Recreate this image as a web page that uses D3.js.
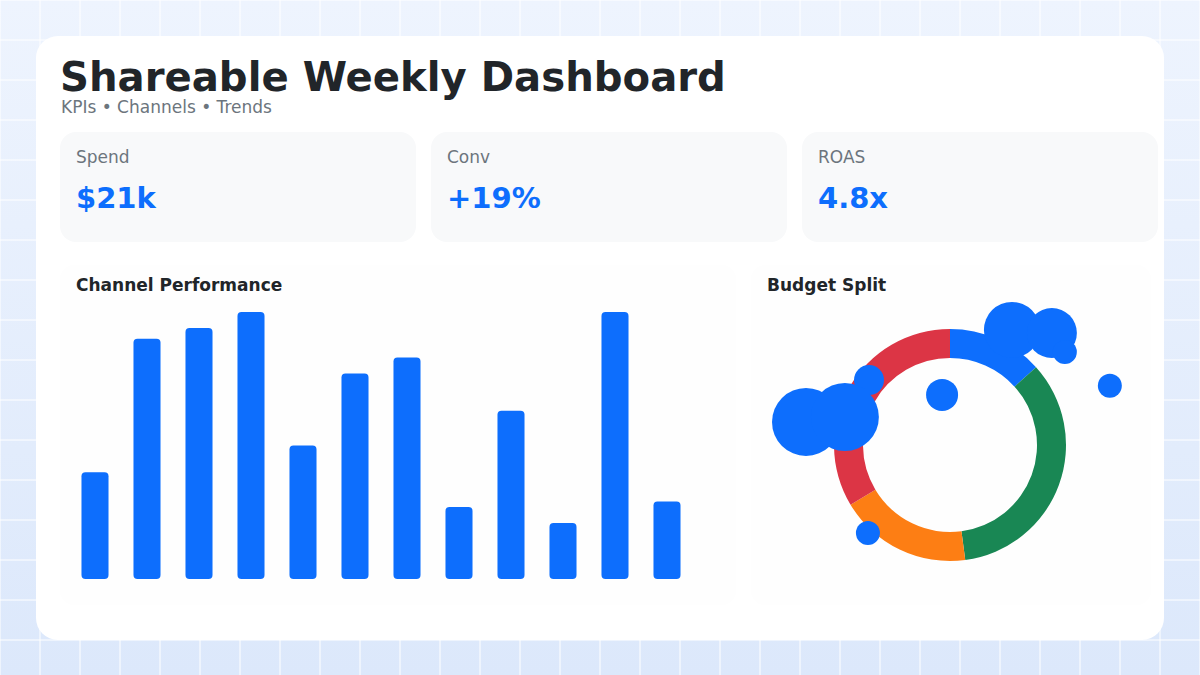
<!DOCTYPE html>
<html>
<head>
<meta charset="utf-8">
<script src="https://cdn.jsdelivr.net/npm/d3@7"></script>
<style>
  body { margin: 0; font-family: "DejaVu Sans", sans-serif; }
</style>
</head>
<body>
<div id="chart"></div>
<script>
const kpiLabels = ["Spend", "Conv", "ROAS"]
const kpiValues = ["$21k", "+19%", "4.8x"]

const channels = ["C1","C2","C3","C4","C5","C6","C7","C8","C9","C10","C11","C12"]
const channelValues = [40, 90, 94, 100, 50, 77, 83, 27, 63, 21, 100, 29]

const budgetLabels = ["Search", "Social", "Video", "Display"]
const budgetValues = [13.3, 34.6, 18.5, 33.6]
const budgetColors = ["#0d6efd", "#198754", "#fd7e14", "#dc3545"]

// bubbles drawn over the donut, in a 0-100 space
const bubbleX = [67.2, 78.3, 81.9, 94.4, 47.8, 27.5, 10, 20.8, 27.2]
const bubbleY = [11.5, 12.7, 20, 33, 36.5, 30.8, 46.9, 45, 89.6]
const bubbleR = [28, 25, 12, 12, 16, 15, 34, 34, 12]

const W = 1200, H = 675
const svg = d3.select("#chart").append("svg").attr("width", W).attr("height", H)

const bg = svg.append("defs").append("linearGradient").attr("id", "bg")
    .attr("x1", 0).attr("y1", 0).attr("x2", 0).attr("y2", 1)
bg.append("stop").attr("offset", 0).attr("stop-color", "#eef4fe")
bg.append("stop").attr("offset", 1).attr("stop-color", "#dce8fb")
svg.append("rect").attr("width", W).attr("height", H).attr("fill", "url(#bg)")

// grid
svg.append("g").selectAll("line").data(d3.range(0, W + 1, 40)).join("line")
    .attr("x1", d => d).attr("x2", d => d).attr("y1", 0).attr("y2", H)
    .attr("stroke", "#fff").attr("stroke-width", 1)
svg.append("g").selectAll("line").data(d3.range(0, H + 1, 40)).join("line")
    .attr("y1", d => d).attr("y2", d => d).attr("x1", 0).attr("x2", W)
    .attr("stroke", "#fff").attr("stroke-width", 1)

svg.append("rect").attr("x", 36).attr("y", 36).attr("width", 1128).attr("height", 604)
    .attr("rx", 22).attr("fill", "#fff")

svg.append("text").attr("x", 60).attr("y", 91).text("Shareable Weekly Dashboard")
    .attr("font-size", 40.2).attr("font-weight", "bold").attr("fill", "#212529")
svg.append("text").attr("x", 61).attr("y", 113).text("KPIs • Channels • Trends")
    .attr("font-size", 17).attr("fill", "#6c757d")

// KPI cards
const kpi = svg.append("g").selectAll("g").data(kpiLabels).join("g")
    .attr("transform", (d, i) => `translate(${60 + i * 371},132)`)
kpi.append("rect").attr("width", 356).attr("height", 110).attr("rx", 16).attr("fill", "#f8f9fa")
kpi.append("text").attr("x", 16).attr("y", 31).text(d => d)
    .attr("font-size", 17).attr("fill", "#6c757d")
kpi.append("text").attr("x", 16).attr("y", 76).text((d, i) => kpiValues[i])
    .attr("font-size", 29).attr("font-weight", "bold").attr("fill", "#0d6efd")

// panels
svg.append("rect").attr("x", 60).attr("y", 265).attr("width", 676).attr("height", 340)
    .attr("rx", 14).attr("fill", "#fefefe")
svg.append("rect").attr("x", 751).attr("y", 265).attr("width", 400).attr("height", 340)
    .attr("rx", 14).attr("fill", "#fefefe")
svg.append("text").attr("x", 76).attr("y", 291).text("Channel Performance")
    .attr("font-size", 17).attr("font-weight", "bold").attr("fill", "#212529")
svg.append("text").attr("x", 767).attr("y", 291).text("Budget Split")
    .attr("font-size", 17).attr("font-weight", "bold").attr("fill", "#212529")

// bars
const x = d3.scaleBand().domain(channels).range([69, 693]).paddingInner(0.48).paddingOuter(0.24)
const y = d3.scaleLinear().domain([0, d3.max(channelValues)]).range([579, 312])
svg.append("g").selectAll("rect").data(channelValues).join("rect")
    .attr("x", (d, i) => x(channels[i])).attr("width", x.bandwidth())
    .attr("y", d => y(d)).attr("height", d => 579 - y(d))
    .attr("rx", 4).attr("fill", "#0d6efd")

// donut
const cx = 950, cy = 445
const pie = d3.pie().sort(null)(budgetValues)
const arc = d3.arc().innerRadius(87).outerRadius(116)
svg.append("g").attr("transform", `translate(${cx},${cy})`)
    .selectAll("path").data(pie).join("path")
    .attr("d", arc).attr("fill", (d, i) => budgetColors[i])

const bx = d3.scaleLinear().domain([0, 100]).range([770, 1130])
const by = d3.scaleLinear().domain([0, 100]).range([300, 560])
svg.append("g").selectAll("circle").data(bubbleR).join("circle")
    .attr("cx", (d, i) => bx(bubbleX[i])).attr("cy", (d, i) => by(bubbleY[i]))
    .attr("r", d => d).attr("fill", "#0d6efd")
</script>
</body>
</html>
